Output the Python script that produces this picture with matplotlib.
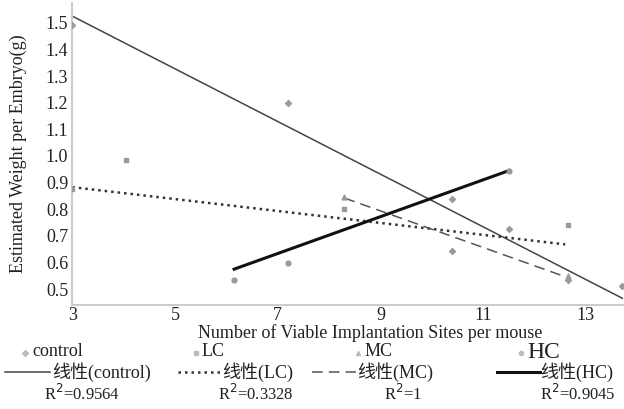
import matplotlib.pyplot as plt
from matplotlib.lines import Line2D

plt.rcParams['font.family'] = ['Liberation Serif', 'Noto Sans CJK SC']

# scatter data
control_x = [3, 7.2, 10.4, 10.4, 11.5, 12.65, 13.7]
control_y = [1.49, 1.20, 0.84, 0.645, 0.725, 0.535, 0.51]
lc_x = [3, 4.05, 8.3, 12.65]
lc_y = [0.875, 0.985, 0.80, 0.74]
mc_x = [8.3, 12.65]
mc_y = [0.845, 0.55]
hc_x = [6.15, 7.2, 11.5]
hc_y = [0.535, 0.60, 0.945]

# linear trend lines (start, end)
trend_control = ([3, 13.72], [1.525, 0.465])
trend_lc = ([3, 12.6], [0.883, 0.668])
trend_mc = ([8.3, 12.55], [0.842, 0.55])
trend_hc = ([6.15, 11.5], [0.575, 0.945])

r2 = ['R$^2$=0.9564', 'R$^2$=0.3328', 'R$^2$=1', 'R$^2$=0.9045']
names = ['control', 'LC', 'MC', 'HC']

fig = plt.figure(figsize=(6.24, 4.09), dpi=100)
ax = fig.add_axes([0.116, 0.254, 0.882, 0.739])

gray = '#9a9a9a'
ax.scatter(control_x, control_y, marker='D', s=9, color=gray, zorder=3)
ax.scatter(lc_x, lc_y, marker='s', s=10, color=gray, zorder=3)
ax.scatter(mc_x, mc_y, marker='^', s=12, color=gray, zorder=3)
ax.scatter(hc_x, hc_y, marker='o', s=12, color=gray, zorder=3)

ax.plot(*trend_control, color='#444444', lw=1.1)
ax.plot(*trend_lc, color='#333333', lw=1.8, linestyle=(0, (1, 1.6)))
ax.plot(*trend_mc, color='#555555', lw=1.1, linestyle=(0, (7, 4)))
ax.plot(*trend_hc, color='#111111', lw=2.2)

ax.set_xlim(3, 13.72)
ax.set_ylim(0.44, 1.575)
ax.set_xticks([3, 5, 7, 9, 11, 13])
ax.set_yticks([0.5, 0.6, 0.7, 0.8, 0.9, 1.0, 1.1, 1.2, 1.3, 1.4, 1.5])
ax.set_yticklabels(['0.5', '0.6', '0.7', '0.8', '0.9', '1.0', '1.1', '1.2', '1.3', '1.4', '1.5'])
ax.tick_params(length=0, labelsize=13, colors='#222222')
ax.tick_params(axis='y', pad=3)
ax.tick_params(axis='x', pad=1)
for s in ['top', 'right']:
    ax.spines[s].set_visible(False)
for s in ['left', 'bottom']:
    ax.spines[s].set_color('#cccccc')
    ax.spines[s].set_linewidth(1.5)

ax.set_ylabel('Estimated Weight per Embryo(g)', fontsize=13, color='#222222')
ax.yaxis.set_label_coords(-0.083, 0.5)
fig.text(0.593, 0.186, 'Number of Viable Implantation Sites per mouse',
         ha='center', va='center', fontsize=13, color='#222222')

# legend built by hand below the plot
W, H = 624, 409
def fx(px):
    return px / W
def fy(py):
    return 1 - py / H

marks = ['D', 's', '^', 'o']
mark_x = [25, 196, 358, 521]
text_x = [32, 202, 365, 527]
sizes = [13, 13, 13, 17]
for m, mx, tx, n, fs in zip(marks, mark_x, text_x, names, sizes):
    fig.add_artist(Line2D([fx(mx)], [fy(353)], marker=m, markersize=3,
                          color='#bbbbbb', linestyle='none'))
    fig.text(fx(tx), fy(352), n, ha='left', va='center', fontsize=fs, color='#222222')

styles = [dict(color='#444444', lw=1.1, linestyle='-'),
          dict(color='#333333', lw=1.8, linestyle=(0, (1, 1.6))),
          dict(color='#555555', lw=1.1, linestyle=(0, (7, 4))),
          dict(color='#111111', lw=2.2, linestyle='-')]
line_x = [(5, 50), (178, 221), (312, 356), (497, 540)]
label_x = [52, 222, 357, 540]
for st, (a, b), lx, n in zip(styles, line_x, label_x, names):
    fig.add_artist(Line2D([fx(a), fx(b)], [fy(372), fy(372)], **st))
    fig.text(fx(lx), fy(372), '线性(' + n + ')', ha='left', va='center',
             fontsize=13, color='#222222')

r2_x = [82, 256, 403, 578]
for rx, t in zip(r2_x, r2):
    fig.text(fx(rx), fy(394), t, ha='center', va='center', fontsize=12, color='#222222')

fig.savefig('out.png', dpi=100)
